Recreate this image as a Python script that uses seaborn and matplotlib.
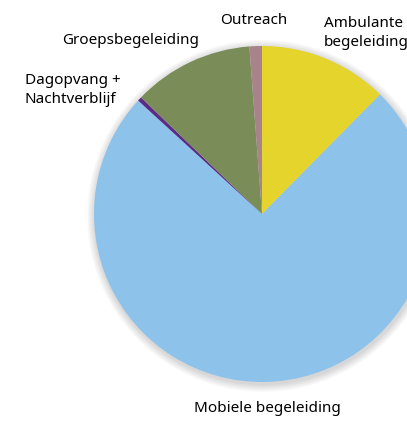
import matplotlib
matplotlib.use("Agg")
import matplotlib.pyplot as plt
import seaborn as sns
from matplotlib.patches import Circle

# slices, clockwise from 12 o'clock
categories = ["Ambulante begeleiding", "Mobiele begeleiding", "Dagopvang + Nachtverblijf",
              "Groepsbegeleiding", "Outreach"]
shares = [12.4, 74.4, 0.4, 11.6, 1.2]
colors = ["#E5D42C", "#8DC3EA", "#5C2A87", "#7A8C58", "#A9838B"]

label_texts = ["Ambulante\nbegeleiding", "Mobiele begeleiding", "Dagopvang +\nNachtverblijf",
               "Groepsbegeleiding", "Outreach"]

sns.set_theme(style="white")
plt.rcParams["font.family"] = ["Noto Sans", "DejaVu Sans"]

fig = plt.figure(figsize=(4.07, 4.21), dpi=100)
ax = fig.add_axes([0, 0, 1, 1])

cx, cy, r = 262, 207, 168

# soft shadow round the pie
for i in range(8):
    ax.add_patch(Circle((cx + 1, cy - 2), r + 1 + i, color="#000000", alpha=0.018, lw=0, zorder=0))

ax.pie(shares, colors=sns.color_palette(colors), startangle=90, counterclock=False,
       center=(cx, cy), radius=r, wedgeprops=dict(linewidth=0), frame=True)
ax.set_xlim(0, 407)
ax.set_ylim(0, 421)
ax.axis("off")

fs = 11
kw = dict(fontsize=fs, color="black", linespacing=1.3)
ax.text(324, 388, label_texts[0], ha="left", va="center", **kw)
ax.text(267, 12, label_texts[1], ha="center", va="center", **kw)
ax.text(25, 331, label_texts[2], ha="left", va="center", **kw)
ax.text(131, 381, label_texts[3], ha="center", va="center", **kw)
ax.text(254, 400, label_texts[4], ha="center", va="center", **kw)

plt.savefig("out.png", dpi=100)
plt.close()
